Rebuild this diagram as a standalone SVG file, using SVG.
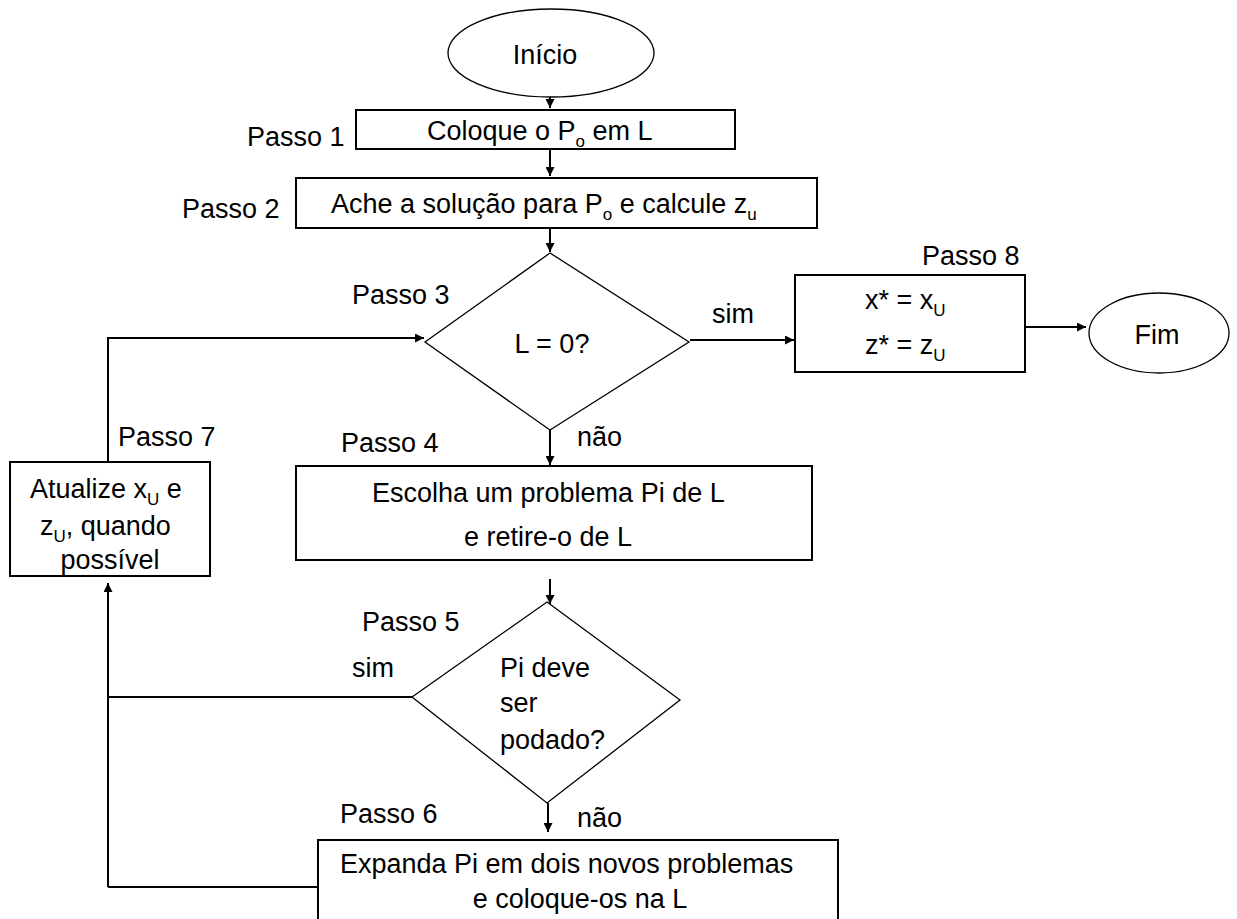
<svg xmlns="http://www.w3.org/2000/svg" width="1237" height="919" viewBox="0 0 1237 919">
<style>
text{font-family:"Liberation Sans",Arial,sans-serif;font-size:27px;fill:#000}
.c{text-anchor:middle}
.sub{font-size:17px}
.box{fill:#fff;stroke:#000;stroke-width:2}
.thin{fill:#fff;stroke:#000;stroke-width:1.3}
.ln{fill:none;stroke:#000;stroke-width:2}
</style>
<defs>
<marker id="ah" viewBox="0 0 10 10" refX="10" refY="5" markerWidth="10" markerHeight="9" markerUnits="userSpaceOnUse" orient="auto">
<path d="M0,0 L10,5 L0,10 z" fill="#000"/>
</marker>
</defs>
<rect width="1237" height="919" fill="#fff"/>
<g id="connectors">
<line class="ln" x1="550" y1="88" x2="550" y2="108" marker-end="url(#ah)"/>
<line class="ln" x1="550" y1="150" x2="550" y2="176" marker-end="url(#ah)"/>
<line class="ln" x1="550" y1="229" x2="550" y2="252" marker-end="url(#ah)"/>
<line class="ln" x1="690" y1="340" x2="794" y2="340" marker-end="url(#ah)"/>
<line class="ln" x1="1026" y1="327" x2="1086" y2="327" marker-end="url(#ah)"/>
<line class="ln" x1="550" y1="430" x2="550" y2="465" marker-end="url(#ah)"/>
<line class="ln" x1="550" y1="579" x2="550" y2="604" marker-end="url(#ah)"/>
<line class="ln" x1="548" y1="803" x2="548" y2="832" marker-end="url(#ah)"/>
<polyline class="ln" points="412,697 108,697 108,583" marker-end="url(#ah)"/>
<line class="ln" x1="318" y1="887" x2="108" y2="887"/>
<line class="ln" x1="108" y1="887" x2="108" y2="697"/>
<polyline class="ln" points="108,462 108,338 424,338" marker-end="url(#ah)"/>
</g>
<g id="inicio">
<ellipse class="thin" cx="551" cy="53" rx="103" ry="44"/>
<text class="c" x="545" y="64">Início</text>
</g>
<g id="passo1">
<rect class="box" x="356" y="110" width="379" height="39"/>
<text x="247" y="146">Passo 1</text>
<text x="427" y="140">Coloque o P<tspan class="sub" dy="7">o</tspan><tspan dy="-7"> em L</tspan></text>
</g>
<g id="passo2">
<rect class="box" x="296" y="178" width="521" height="50"/>
<text x="182" y="218">Passo 2</text>
<text x="331" y="213">Ache a solução para P<tspan class="sub" dy="7">o</tspan><tspan dy="-7"> e calcule z</tspan><tspan class="sub" dy="7">u</tspan></text>
</g>
<g id="passo3">
<polygon class="thin" points="550,253 689,342 550,430 425,342"/>
<text x="352" y="304">Passo 3</text>
<text class="c" x="552" y="353">L = 0?</text>
<text x="712" y="323">sim</text>
</g>
<g id="passo8">
<rect class="box" x="795" y="275" width="230" height="97"/>
<text x="922" y="265">Passo 8</text>
<text x="865" y="309">x* = x<tspan class="sub" dy="7">U</tspan></text>
<text x="865" y="354">z* = z<tspan class="sub" dy="7">U</tspan></text>
</g>
<g id="fim">
<ellipse class="thin" cx="1159" cy="333" rx="70" ry="40"/>
<text class="c" x="1157" y="344">Fim</text>
</g>
<g id="passo4">
<rect class="box" x="296" y="466" width="516" height="94"/>
<text x="341" y="452">Passo 4</text>
<text x="372" y="502">Escolha um problema Pi de L</text>
<text class="c" x="548" y="546">e retire-o de L</text>
<text x="577" y="446">não</text>
</g>
<g id="passo5">
<polygon class="thin" points="547,602 680,700 547,803 412,697"/>
<text x="362" y="631">Passo 5</text>
<text x="352" y="677">sim</text>
<text x="500" y="677">Pi deve</text>
<text x="500" y="712">ser</text>
<text x="500" y="749">podado?</text>
</g>
<g id="passo6">
<rect class="box" x="318" y="840" width="520" height="90"/>
<text x="340" y="823">Passo 6</text>
<text x="577" y="827">não</text>
<text x="340" y="873">Expanda Pi em dois novos problemas</text>
<text class="c" x="580" y="908">e coloque-os na L</text>
</g>
<g id="passo7">
<rect class="box" x="10" y="462" width="200" height="114"/>
<text x="118" y="446">Passo 7</text>
<text x="30" y="498">Atualize x<tspan class="sub" dy="7">U</tspan><tspan dy="-7"> e</tspan></text>
<text x="40" y="535">z<tspan class="sub" dy="7">U</tspan><tspan dy="-7">, quando</tspan></text>
<text class="c" x="110" y="569">possível</text>
</g>
</svg>
